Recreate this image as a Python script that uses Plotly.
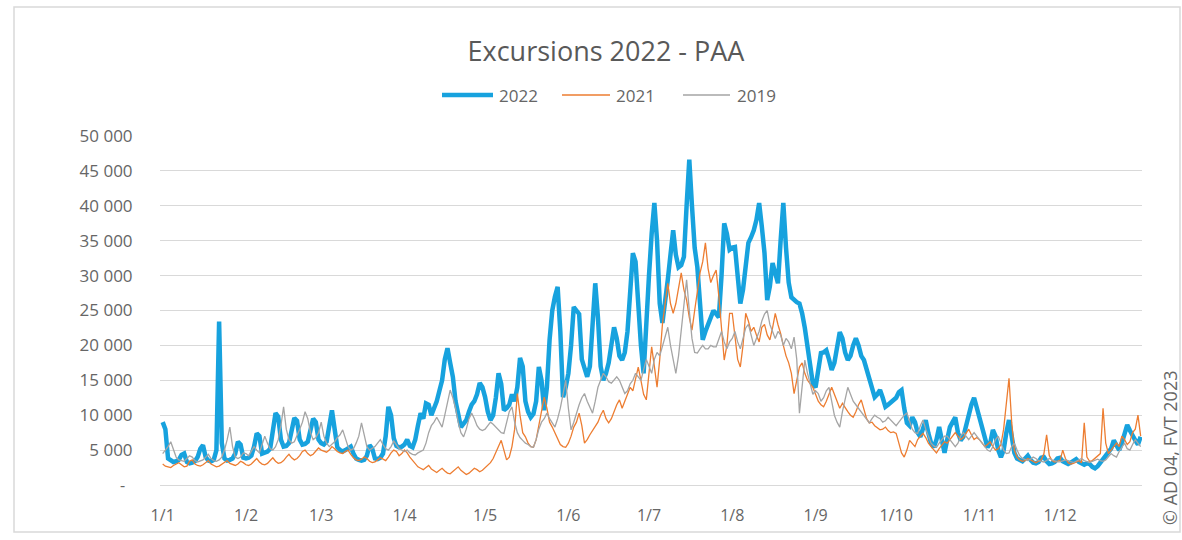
import plotly.graph_objects as go
import pandas as pd

# ---------------- data (daily visitors, in thousands) ----------------
series_names = ["2022", "2021", "2019"]
month_labels = ["1/1", "1/2", "1/3", "1/4", "1/5", "1/6", "1/7", "1/8", "1/9", "1/10", "1/11", "1/12"]
month_starts = ["2022-01-01", "2022-02-01", "2022-03-01", "2022-04-01", "2022-05-01", "2022-06-01",
                "2022-07-01", "2022-08-01", "2022-09-01", "2022-10-01", "2022-11-01", "2022-12-01"]
y_tick_values = [5000, 10000, 15000, 20000, 25000, 30000, 35000, 40000, 45000, 50000]
y_tick_labels = ["5 000", "10 000", "15 000", "20 000", "25 000", "30 000", "35 000", "40 000", "45 000", "50 000"]

v2022_k = [
    # Jan
    9.0, 8.0, 3.8, 3.5, 3.3, 3.4, 3.6, 4.3, 4.5, 3.3, 3.1, 3.2, 3.4, 4.0, 5.2, 5.7, 4.0, 3.5, 3.4, 3.6,
    5.0, 23.4, 6.0, 3.8, 3.5, 3.6, 3.8, 4.5, 6.2, 5.8, 3.9,
    # Feb
    3.8, 3.9, 4.2, 5.5, 7.4, 7.0, 4.5, 4.6, 4.8, 5.2, 7.5, 10.3, 9.8, 6.5, 5.5, 5.6, 6.0, 8.0, 9.6, 9.2,
    6.5, 5.8, 5.9, 6.2, 8.0, 9.5, 9.0, 6.5,
    # Mar
    6.0, 5.8, 6.2, 8.5, 10.7, 8.0, 5.4, 5.0, 4.8, 5.0, 5.2, 5.5, 4.5, 3.8, 3.6, 3.5, 3.6, 4.2, 5.7, 5.2,
    3.8, 3.7, 3.9, 4.5, 7.0, 11.2, 10.0, 6.7, 5.6, 5.4, 5.5,
    # Apr
    5.8, 6.5, 5.6, 5.4, 6.5, 8.5, 10.3, 9.5, 11.7, 11.5, 10.0, 11.0, 12.0, 13.5, 15.0, 18.0, 19.6, 17.5, 15.5, 12.0,
    10.0, 8.3, 8.8, 9.3, 10.5, 11.5, 12.0, 13.0, 14.6, 14.0,
    # May
    12.6, 10.5, 9.3, 10.0, 12.5, 16.0, 14.5, 10.7, 11.0, 11.5, 13.0, 12.0, 14.0, 18.2, 17.0, 12.0, 10.5, 9.7, 10.2, 12.0,
    16.9, 15.0, 10.7, 14.0, 20.8, 25.0, 27.0, 28.4, 22.0, 12.6, 14.0,
    # Jun
    16.0, 20.0, 25.5, 25.0, 24.5, 18.0, 16.5, 15.5, 17.0, 22.0, 28.9, 24.0, 17.0, 15.0, 16.0, 17.5, 20.0, 22.6, 21.0, 18.5,
    17.9, 19.0, 22.0, 28.0, 33.2, 32.0, 25.0, 20.0, 16.0, 24.0,
    # Jul
    30.0, 36.0, 40.4, 35.0, 26.0, 23.2, 26.0, 29.4, 33.0, 36.5, 33.0, 31.2, 31.5, 32.7, 40.0, 46.6, 40.0, 34.0, 31.2, 26.0,
    20.8, 22.0, 23.0, 24.0, 25.0, 24.5, 24.0, 30.0, 37.5, 36.0, 33.7,
    # Aug
    34.0, 34.1, 30.0, 26.0, 28.0, 32.0, 34.7, 35.5, 36.5, 38.0, 40.4, 37.0, 33.2, 26.5, 28.5, 31.8, 30.0, 28.9, 35.0, 40.4,
    34.0, 29.0, 26.9, 26.5, 26.2, 26.0, 24.6, 22.5, 19.8, 17.0, 14.5,
    # Sep
    14.0, 16.5, 18.9, 19.0, 19.3, 18.0, 16.5, 17.5, 20.0, 21.9, 21.0, 19.0, 17.9, 18.5, 20.0, 21.0, 20.0, 18.5, 17.9, 16.5,
    15.5, 14.0, 12.6, 13.0, 13.6, 12.5, 11.2, 11.5, 11.8, 12.2,
    # Oct
    12.5, 13.3, 13.6, 11.0, 8.9, 8.5, 9.7, 9.0, 7.5, 6.9, 8.0, 9.3, 7.4, 6.0, 5.4, 6.5, 8.3, 6.0, 4.6, 6.5,
    8.3, 9.0, 9.7, 7.5, 6.4, 6.9, 8.5, 10.0, 11.5, 12.5, 11.0,
    # Nov
    9.3, 8.0, 6.5, 5.4, 6.0, 7.9, 7.0, 5.0, 4.0, 5.0, 7.5, 9.3, 7.0, 4.6, 3.8, 3.5, 3.4, 3.8, 4.2, 3.6,
    3.2, 3.1, 3.3, 3.9, 4.0, 3.4, 3.0, 3.1, 3.3, 3.8,
    # Dec
    3.9, 3.4, 3.1, 3.0, 3.2, 3.5, 3.7, 3.3, 3.0, 2.9, 3.1, 3.0, 2.6, 2.4, 2.7, 3.2, 3.8, 4.2, 4.6, 5.2,
    6.4, 5.8, 5.0, 6.0, 7.5, 8.6, 7.8, 7.0, 6.4, 5.8, 6.9,
]

v2021_k = [
    # Jan
    3.0, 2.7, 2.6, 2.5, 2.8, 3.0, 3.2, 2.9, 2.6, 2.7, 3.4, 3.6, 3.0, 2.8, 2.7, 2.9, 3.2, 3.5, 3.0, 2.8,
    2.6, 2.7, 3.0, 3.3, 3.5, 3.1, 2.9, 2.8, 3.0, 3.4, 3.2,
    # Feb
    2.9, 2.8, 3.0, 3.4, 3.8, 3.3, 3.0, 2.9, 3.1, 3.5, 3.9, 3.4, 3.1, 3.2, 3.5, 4.0, 4.4, 3.9, 3.6, 3.8,
    4.2, 4.8, 5.0, 4.5, 4.2, 4.4, 4.9, 5.3,
    # Mar
    5.0, 4.8, 4.7, 5.0, 5.5, 5.2, 4.8, 4.6, 4.5, 4.8, 5.0, 4.4, 3.9, 3.6, 3.5, 3.7, 4.0, 3.8, 3.4, 3.2,
    3.3, 3.6, 3.9, 3.7, 3.5, 4.0, 4.6, 5.0, 4.8, 4.2, 4.5,
    # Apr
    5.0, 4.6, 4.0, 3.5, 3.0, 2.6, 2.4, 2.2, 2.5, 2.8, 2.3, 2.0, 1.8, 2.1, 2.4, 2.0, 1.7, 1.6, 1.9, 2.3,
    2.6, 2.1, 1.8, 1.5, 1.7, 2.0, 2.4, 2.2, 1.9, 2.1,
    # May
    2.5, 2.8, 3.2, 3.8, 4.6, 5.5, 6.4, 5.0, 3.6, 4.0, 5.5, 8.0, 13.1, 10.0, 7.5, 6.9, 6.0, 5.5, 5.4, 6.5,
    8.5, 10.5, 12.6, 11.0, 9.0, 8.3, 7.5, 6.5, 5.8, 5.5, 5.4,
    # Jun
    6.0, 7.0, 8.3, 9.0, 10.3, 8.5, 6.0, 6.5, 7.2, 7.8, 8.3, 9.0, 10.0, 10.7, 9.5, 8.9, 9.5, 10.5, 11.5, 12.2,
    11.0, 12.0, 13.0, 14.0, 13.5, 15.0, 16.9, 15.0, 13.0, 12.2,
    # Jul
    16.0, 19.8, 17.0, 14.0, 18.0, 23.0, 26.0, 28.9, 26.0, 24.6, 26.0, 28.0, 30.4, 28.0, 26.5, 24.0, 22.2, 25.0, 28.0, 30.4,
    32.0, 34.7, 31.0, 29.0, 30.0, 30.8, 27.0, 22.0, 17.9, 20.0, 24.6,
    # Aug
    24.6, 21.0, 18.0, 16.9, 20.0, 24.6, 23.5, 22.0, 22.6, 21.5, 20.5, 22.6, 23.0, 21.5, 20.8, 22.5, 24.6, 23.0, 21.7, 20.0,
    18.5, 17.5, 16.0, 13.1, 15.0, 16.9, 17.5, 16.0, 15.0, 14.5, 14.0,
    # Sep
    13.0, 12.0, 11.5, 11.2, 12.0, 13.0, 14.0, 13.0, 12.0, 11.0, 11.7, 11.0, 10.5, 10.0, 9.7, 10.5, 11.5, 12.2, 11.0, 9.5,
    8.9, 9.0, 8.5, 8.2, 7.9, 8.0, 8.3, 7.8, 7.5, 7.6,
    # Oct
    7.4, 6.0, 4.6, 4.0, 5.0, 6.4, 6.0, 5.5, 6.5, 7.0, 7.4, 6.8, 6.0, 5.5, 5.0, 4.6, 5.2, 5.8, 6.2, 6.0,
    6.5, 7.0, 7.5, 7.0, 6.5, 6.8, 7.5, 8.0, 7.2, 6.5, 6.8,
    # Nov
    6.5, 6.0, 5.5, 5.8, 6.2, 5.5, 5.0, 5.2, 5.8, 8.0, 12.0, 15.3, 9.0, 5.0, 4.0, 3.6, 3.4, 3.5, 3.8, 3.6,
    3.3, 3.2, 3.4, 3.6, 4.5, 7.2, 4.2, 3.5, 3.3, 3.4,
    # Dec
    3.5, 5.0, 3.8, 3.2, 3.0, 3.1, 3.3, 3.5, 3.2, 8.9, 4.0, 3.4, 3.5, 3.8, 4.2, 4.5, 11.0, 6.0, 4.5, 5.0,
    5.5, 6.0, 5.5, 7.0, 6.5, 5.8, 6.2, 7.5, 8.0, 10.0, 7.0,
]

v2019_k = [
    # Jan
    4.5, 5.0, 5.5, 6.2, 5.0, 4.0, 3.6, 3.5, 3.4, 3.8, 4.2, 4.0, 3.5, 3.3, 3.4, 3.6, 4.0, 4.4, 3.8, 3.5,
    3.4, 3.6, 4.0, 5.0, 6.5, 8.3, 5.5, 4.0, 3.8, 4.0, 4.6,
    # Feb
    4.5, 4.2, 4.8, 5.5, 5.0, 4.6, 5.8, 7.0, 6.0, 5.2, 5.0, 5.5, 6.5, 8.5, 11.2, 8.0, 6.5, 6.0, 6.2, 7.0,
    8.0, 9.0, 10.5, 9.5, 7.5, 6.5, 6.8, 7.5,
    # Mar
    9.0, 7.0, 6.0, 5.5, 5.8, 6.2, 6.8, 7.2, 7.9, 6.5, 5.5, 5.0, 5.2, 6.0, 7.0, 8.9, 7.0, 5.5, 5.0, 5.2,
    5.5, 6.0, 6.5, 5.8, 5.2, 5.0, 5.5, 6.3, 5.8, 5.2, 5.0,
    # Apr
    4.8, 5.0, 4.6, 4.4, 4.3, 4.6, 4.8, 5.0, 6.0, 7.5, 8.5, 9.0, 9.7, 9.0, 8.3, 10.0, 12.0, 13.6, 12.5, 11.0,
    9.0, 7.5, 6.9, 8.0, 9.5, 10.3, 9.5, 8.5, 8.0, 7.8,
    # May
    8.0, 8.5, 9.0, 8.7, 8.3, 7.8, 7.5, 7.4, 9.0, 10.5, 11.2, 9.0, 7.5, 6.8, 6.4, 6.0, 5.8, 5.5, 5.4, 6.5,
    8.0, 9.0, 9.5, 10.3, 9.5, 8.8, 8.3, 9.5, 11.0, 13.0, 15.0,
    # Jun
    11.0, 7.9, 9.0, 10.3, 11.5, 12.5, 13.1, 12.0, 11.0, 10.3, 12.0, 14.0, 15.0, 16.0, 15.5, 14.8, 14.6, 15.0, 15.5, 15.0,
    14.0, 13.1, 13.5, 14.5, 15.0, 16.0, 15.5, 15.0, 16.5, 18.0,
    # Jul
    17.0, 16.0, 18.0, 19.0, 18.5, 20.0, 21.5, 22.6, 20.0, 18.0, 16.0, 18.5, 22.0, 26.0, 29.4, 25.0, 21.0, 19.0, 18.9, 19.5,
    20.0, 19.5, 19.5, 20.0, 19.8, 19.8, 21.0, 22.0, 20.5, 19.5, 20.5,
    # Aug
    21.0, 22.0, 20.5, 19.5, 21.0, 22.5, 23.0, 21.5, 20.0, 21.0, 22.0, 23.5, 24.5, 25.0, 23.0, 22.0, 21.0, 22.0, 21.5, 20.0,
    21.0, 20.5, 19.5, 21.2, 18.0, 10.3, 14.0, 17.9, 16.0, 14.5, 13.0,
    # Sep
    13.5, 13.1, 12.0, 12.5, 13.5, 14.0, 12.0, 10.0, 9.0, 8.3, 10.5, 12.5, 14.0, 13.0, 12.0, 11.5, 11.0, 10.5, 10.0, 9.5,
    8.9, 9.5, 10.0, 9.7, 9.5, 9.0, 9.2, 9.7, 9.3, 8.9,
    # Oct
    8.5, 9.0, 9.5, 10.0, 10.3, 9.0, 8.0, 7.5, 7.4, 8.5, 9.3, 8.0, 7.0, 6.0, 5.6, 5.4, 6.0, 6.5, 7.0, 7.0,
    6.5, 6.0, 5.5, 6.0, 7.0, 7.5, 7.0, 6.5, 7.0, 7.5, 7.0,
    # Nov
    6.5, 6.0, 5.5, 5.0, 4.8, 5.5, 6.5, 7.0, 6.0, 5.0, 4.5, 4.6, 5.5, 6.0, 5.0, 4.2, 3.8, 3.6, 3.5, 3.7,
    4.0, 3.8, 3.5, 3.4, 3.3, 3.5, 3.8, 3.6, 3.4, 3.3,
    # Dec
    3.3, 3.4, 3.6, 3.5, 3.3, 3.2, 3.4, 3.6, 3.8, 3.5, 3.3, 3.2, 3.4, 3.6, 3.7, 3.5, 3.4, 3.6, 4.0, 4.5,
    4.2, 4.0, 4.8, 5.5, 6.0, 5.2, 5.0, 5.8, 6.5, 6.0, 5.5,
]

series_values_k = [v2022_k, v2021_k, v2019_k]
series_colors = ["#17A2DE", "#ED7D31", "#A5A5A5"]
series_widths = [4.5, 1.3, 1.3]

TEXT = "#666666"
GRID = "#D9D9D9"
FONT = "Open Sans"

fig = go.Figure()
for name, vals, col, w in zip(series_names, series_values_k, series_colors, series_widths):
    days = pd.date_range("2022-01-01", periods=len(vals), freq="D")
    fig.add_trace(go.Scatter(
        x=days, y=[v * 1000 for v in vals], mode="lines", name=name,
        line=dict(color=col, width=w), showlegend=False,
    ))

# plot area in pixels
L, R, T, B = 160, 1142, 136, 485
W, H = 1182, 540
pw, ph = R - L, B - T

def px_x(x):
    return (x - L) / pw

def px_y(y):
    return (B - y) / ph

fig.update_layout(
    width=W, height=H,
    margin=dict(l=L, r=W - R, t=T, b=H - B, pad=0),
    paper_bgcolor="white", plot_bgcolor="white",
    font=dict(family=FONT, color=TEXT, size=16),
    title=dict(text="Excursions 2022 - PAA", x=606 / W, xanchor="center",
               y=1 - 52 / H, yanchor="middle", yref="container", xref="container",
               font=dict(family=FONT, size=27, color="#595959")),
    showlegend=False,
)

fig.update_xaxes(
    type="date",
    range=["2021-12-31 00:00", "2022-12-31 12:00"],
    tickmode="array", tickvals=month_starts, ticktext=month_labels,
    showgrid=False, zeroline=False,
    showline=True, linecolor=GRID, linewidth=1,
    ticks="outside", ticklen=16, tickcolor="rgba(0,0,0,0)",
    tickfont=dict(family=FONT, size=16, color=TEXT),
)
fig.update_yaxes(
    range=[0, 50000],
    tickmode="array", tickvals=y_tick_values, ticktext=y_tick_labels,
    showgrid=True, gridcolor=GRID, gridwidth=1, zeroline=False, showline=False,
    ticks="outside", ticklen=23, tickcolor="rgba(0,0,0,0)",
    tickfont=dict(family=FONT, size=17, color=TEXT),
)

# custom legend (line samples + labels), placed like the original
legend_line_px = [(442, 493), (562, 610), (683, 730)]
legend_text_px = [518, 635, 756]
legend_y_px = 95
for name, col, w, (lx0, lx1), tx in zip(series_names, series_colors, series_widths,
                                        legend_line_px, legend_text_px):
    fig.add_shape(type="line", xref="paper", yref="paper",
                  x0=px_x(lx0), x1=px_x(lx1), y0=px_y(legend_y_px), y1=px_y(legend_y_px),
                  line=dict(color=col, width=w))
    fig.add_annotation(text=name, xref="paper", yref="paper", x=px_x(tx), y=px_y(legend_y_px),
                       showarrow=False, xanchor="center", yanchor="middle",
                       font=dict(family=FONT, size=17, color=TEXT))

# zero label shown as a dash (accounting format)
fig.add_annotation(text="-", xref="paper", yref="y", x=px_x(122), y=0, showarrow=False,
                   xanchor="center", yanchor="middle", font=dict(family=FONT, size=16, color=TEXT))
# copyright vertical text
fig.add_annotation(text="© AD 04, FVT 2023", xref="paper", yref="paper", x=px_x(1170), y=px_y(448),
                   textangle=-90, showarrow=False, xanchor="center", yanchor="middle",
                   font=dict(family=FONT, size=18, color=TEXT))
# chart border
fig.add_shape(type="rect", xref="paper", yref="paper",
              x0=px_x(14), x1=px_x(1180), y0=px_y(532), y1=px_y(7),
              line=dict(color=GRID, width=1.5), fillcolor="rgba(0,0,0,0)", layer="below")

fig.write_html("out.html")
